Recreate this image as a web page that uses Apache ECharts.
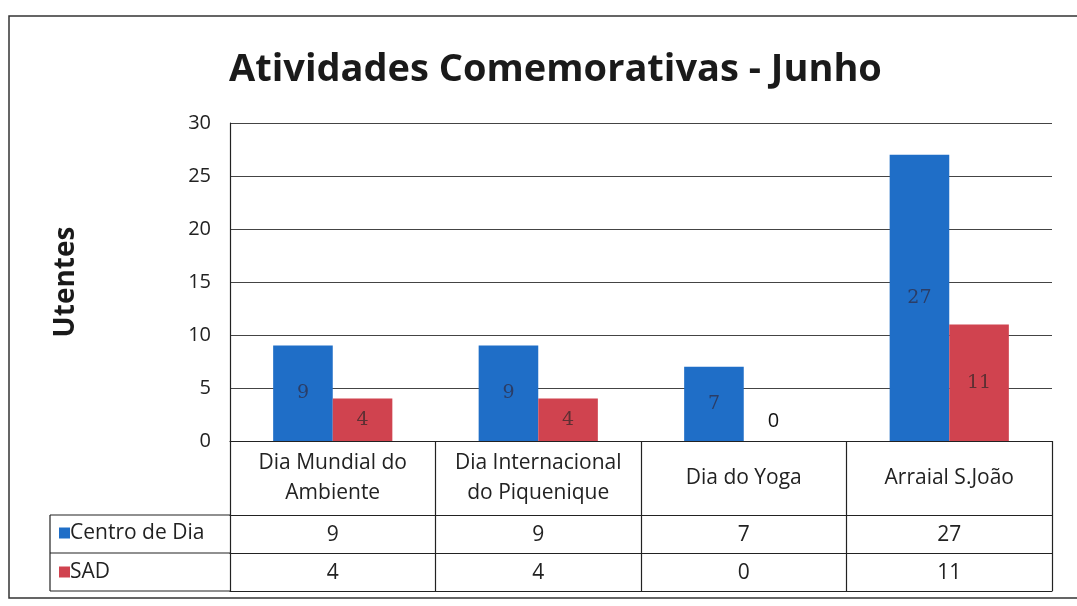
<!DOCTYPE html>
<html>
<head>
<meta charset="utf-8">
<script src="https://cdn.jsdelivr.net/npm/echarts@6/dist/echarts.min.js"></script>
<style>html,body{margin:0;padding:0;background:#fff;}#c{width:1077px;height:606px;}</style>
</head>
<body>
<div id="c"></div>
<script>
// ---- data ----
const titleText = "Atividades Comemorativas - Junho";
const yAxisName = "Utentes";
const categories = ["Dia Mundial do\nAmbiente", "Dia Internacional\ndo Piquenique", "Dia do Yoga", "Arraial S.João"];
const seriesNames = ["Centro de Dia", "SAD"];
const centroDeDia = [9, 9, 7, 27];
const sad = [4, 4, 0, 11];
const yMin = 0, yMax = 30, yInterval = 5;

// ---- layout ----
const W = 1077, H = 606;
const gLeft = 230, gRight = 1052, gTop = 123, gBottom = 441;
const rowHead = 74, rowH = 38;
const tableLeft = 50;
const FONT = "'Open Sans', 'Noto Sans', sans-serif";
const blue = "#1f6ec7", red = "#d0434f";

function valueData(arr) {
  return arr.map(v => v === 0
    ? { value: v, label: { position: 'top', distance: 10, color: '#111', fontFamily: FONT, fontSize: 20 } }
    : v);
}

const chart = echarts.init(document.getElementById('c'), null, { renderer: 'canvas' });
const line = (x1, y1, x2, y2) => ({ type: 'line', shape: { x1, y1, x2, y2 }, style: { stroke: '#222', lineWidth: 1.2 }, silent: true });

chart.setOption({
  backgroundColor: '#fff',
  animation: false,
  title: {
    text: titleText, left: 224, top: 46,
    textStyle: { fontFamily: FONT, fontWeight: 'bold', fontSize: 38, color: '#1a1a1a' }
  },
  legend: {
    data: seriesNames, orient: 'vertical', left: 54, top: gBottom + rowHead - 2,
    icon: 'rect', itemWidth: 11, itemHeight: 11, itemGap: 9,
    textStyle: { fontFamily: FONT, fontSize: 21, color: '#222', lineHeight: 30, padding: [0, 0, 0, -5] }
  },
  grid: { left: gLeft, right: W - gRight, top: gTop, bottom: H - gBottom, containLabel: false },
  xAxis: [
    {
      type: 'category', data: categories, position: 'bottom',
      axisLine: { show: true, lineStyle: { color: '#222', width: 1.2 } },
      axisTick: { show: true, length: rowHead + 2 * rowH, lineStyle: { color: '#222', width: 1.2 } },
      axisLabel: { margin: rowHead / 2, verticalAlign: 'middle', fontFamily: FONT, fontSize: 21, lineHeight: 30, color: '#222', interval: 0 },
      splitLine: { show: false }
    },
    {
      type: 'category', data: centroDeDia.map(String), position: 'bottom', offset: rowHead,
      axisLine: { show: true, lineStyle: { color: '#222', width: 1.2 } },
      axisTick: { show: false },
      axisLabel: { margin: rowH / 2 + 1, verticalAlign: 'middle', fontFamily: FONT, fontSize: 21, color: '#222', interval: 0 }
    },
    {
      type: 'category', data: sad.map(String), position: 'bottom', offset: rowHead + rowH,
      axisLine: { show: true, lineStyle: { color: '#222', width: 1.2 } },
      axisTick: { show: false },
      axisLabel: { margin: rowH / 2 + 1, verticalAlign: 'middle', fontFamily: FONT, fontSize: 21, color: '#222', interval: 0 }
    },
    {
      type: 'category', data: categories, position: 'bottom', offset: rowHead + 2 * rowH,
      axisLine: { show: true, lineStyle: { color: '#222', width: 1.2 } },
      axisTick: { show: false }, axisLabel: { show: false }
    }
  ],
  yAxis: {
    type: 'value', min: yMin, max: yMax, interval: yInterval,
    name: yAxisName, nameLocation: 'middle', nameGap: 150, nameRotate: 90,
    nameTextStyle: { fontFamily: FONT, fontWeight: 'bold', fontSize: 28, color: '#1a1a1a' },
    axisLine: { show: true, lineStyle: { color: '#222', width: 1.2 } },
    axisTick: { show: false },
    axisLabel: { margin: 19, fontFamily: FONT, fontSize: 20, color: '#222' },
    splitLine: { show: true, lineStyle: { color: '#444', width: 1.2 } }
  },
  series: [
    {
      name: seriesNames[0], type: 'bar', data: valueData(centroDeDia), barGap: '0%', barCategoryGap: '42%',
      itemStyle: { color: blue },
      label: { show: true, position: 'inside', fontFamily: "'DejaVu Serif', 'Liberation Serif', serif", fontSize: 19, color: '#2b3d66' }
    },
    {
      name: seriesNames[1], type: 'bar', data: valueData(sad), barGap: '0%', barCategoryGap: '42%',
      itemStyle: { color: red },
      label: { show: true, position: 'inside', fontFamily: "'DejaVu Serif', 'Liberation Serif', serif", fontSize: 19, color: '#5e2f33' }
    }
  ],
  graphic: [
    { type: 'rect', shape: { x: 9, y: 16, width: W + 20, height: 582 }, style: { fill: 'none', stroke: '#333', lineWidth: 1.5 }, silent: true },
    line(tableLeft, gBottom + rowHead, gLeft, gBottom + rowHead),
    line(tableLeft, gBottom + rowHead + rowH, gLeft, gBottom + rowHead + rowH),
    line(tableLeft, gBottom + rowHead + 2 * rowH, gLeft, gBottom + rowHead + 2 * rowH),
    line(tableLeft, gBottom + rowHead, tableLeft, gBottom + rowHead + 2 * rowH)
  ]
});
</script>
</body>
</html>
